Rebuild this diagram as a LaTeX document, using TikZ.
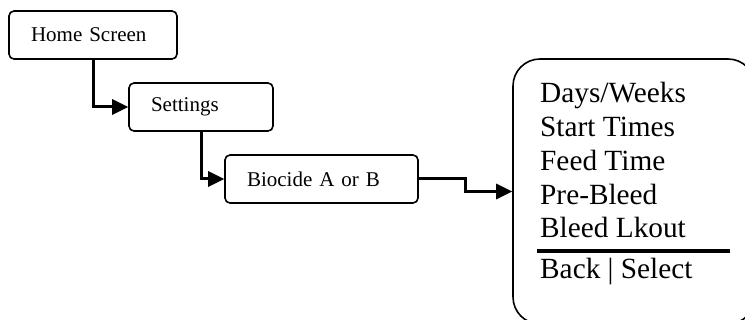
\documentclass[tikz,border=0pt]{standalone}
\usepackage{fontspec}
\setmainfont{Liberation Serif}
\usetikzlibrary{arrows.meta}
\begin{document}
\begin{tikzpicture}[x=1pt,y=-1pt,
  box/.style={draw, line width=1.6pt, rounded corners=5pt, minimum height=48pt,
    inner xsep=22pt, inner ysep=0pt, align=left, font=\fontsize{21}{24}\selectfont},
  conn/.style={line width=3pt, -{Triangle[length=16pt,width=15pt]}},
  item/.style={anchor=base west, inner sep=0pt, font=\fontsize{29.3}{32}\selectfont}]
\useasboundingbox (0,0) rectangle (745,320);
\clip (0,0) rectangle (745,320);
\node[box, text width=124pt] (home) at (93,35) {Home Screen};
\node[box, text width=100pt] (set) at (201,107) {Settings};
\node[box, text width=149pt] (bio) at (321.5,179) {Biocide A or B};
\node[draw, line width=1.6pt, rounded corners=27pt, minimum width=242pt,
  minimum height=265pt, inner sep=0pt] (menu) at (634,191.5) {};
\node[item] (i1) at (540,103) {Days/Weeks};
\node[item] (i2) at (540,137) {Start Times};
\node[item] (i3) at (540,170.5) {Feed Time};
\node[item] (i4) at (540,204.5) {Pre-Bleed};
\node[item] (i5) at (540,238) {Bleed Lkout};
\coordinate (ruleL) at (537,251);
\coordinate (ruleR) at (730,251);
\draw[line width=3.5pt] (ruleL) -- (ruleR);
\node[item] (i6) at (540,279) {Back | Select};
\draw[conn] (home.south) |- (set.west);
\draw[conn] (set.south) |- (bio.west);
\draw[conn] (bio.east) -- ++(47,0) |- (menu.west);
\end{tikzpicture}
\end{document}
